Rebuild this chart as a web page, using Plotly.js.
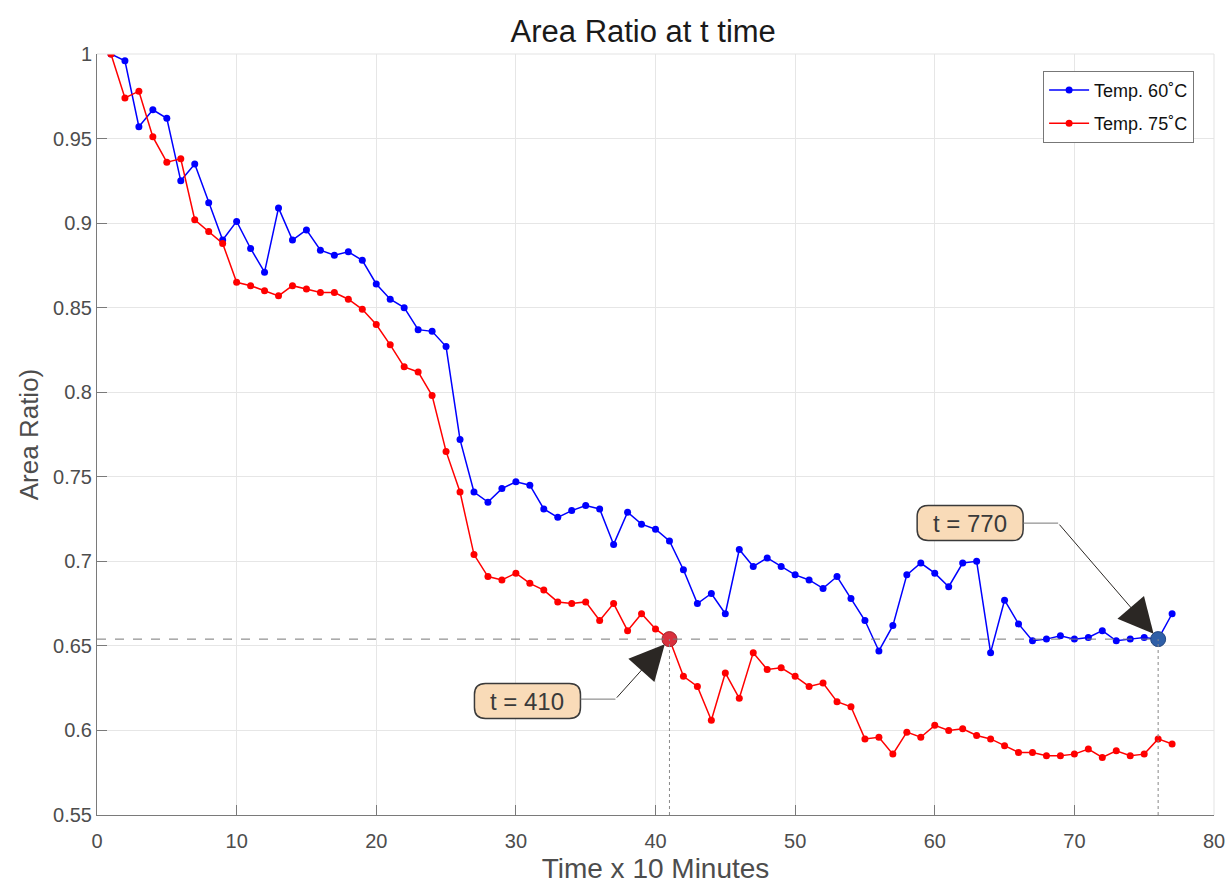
<!DOCTYPE html>
<html>
<head>
<meta charset="utf-8">
<script src="https://cdn.plot.ly/plotly-3.0.1.min.js"></script>
<style>html,body{margin:0;padding:0;background:#fff;}#chart{width:1228px;height:884px;}</style>
</head>
<body>
<div id="chart"></div>
<script>
// Time index (x 10 minutes)
const timeSteps = Array.from({length: 77}, (_, i) => i + 1);

// Area ratio at 60 °C
const temp60 = [
  1.000, 0.996, 0.957, 0.967, 0.962, 0.925, 0.935, 0.912, 0.890, 0.901,
  0.885, 0.871, 0.909, 0.890, 0.896, 0.884, 0.881, 0.883, 0.878, 0.864,
  0.855, 0.850, 0.837, 0.836, 0.827, 0.772, 0.741, 0.735, 0.743, 0.747,
  0.745, 0.731, 0.726, 0.730, 0.733, 0.731, 0.710, 0.729, 0.722, 0.719,
  0.712, 0.695, 0.675, 0.681, 0.669, 0.707, 0.697, 0.702, 0.697, 0.692,
  0.689, 0.684, 0.691, 0.678, 0.665, 0.647, 0.662, 0.692, 0.699, 0.693,
  0.685, 0.699, 0.700, 0.646, 0.677, 0.663, 0.653, 0.654, 0.656, 0.654,
  0.655, 0.659, 0.653, 0.654, 0.655, 0.654, 0.669
];

// Area ratio at 75 °C
const temp75 = [
  1.000, 0.974, 0.978, 0.951, 0.936, 0.938, 0.902, 0.895, 0.888, 0.865,
  0.863, 0.860, 0.857, 0.863, 0.861, 0.859, 0.859, 0.855, 0.849, 0.840,
  0.828, 0.815, 0.812, 0.798, 0.765, 0.741, 0.704, 0.691, 0.689, 0.693,
  0.687, 0.683, 0.676, 0.675, 0.676, 0.665, 0.675, 0.659, 0.669, 0.660,
  0.654, 0.632, 0.626, 0.606, 0.634, 0.619, 0.646, 0.636, 0.637, 0.632,
  0.626, 0.628, 0.617, 0.614, 0.595, 0.596, 0.586, 0.599, 0.596, 0.603,
  0.600, 0.601, 0.597, 0.595, 0.591, 0.587, 0.587, 0.585, 0.585, 0.586,
  0.589, 0.584, 0.588, 0.585, 0.586, 0.595, 0.592
];

// Highlighted times (index in timeSteps) and labels
const mark75Time = 41;
const mark60Time = 76;
const markLabels = ['t = 410', 't = 770'];

const xTickVals = [0, 10, 20, 30, 40, 50, 60, 70, 80];
const yTickVals = [0.55, 0.6, 0.65, 0.7, 0.75, 0.8, 0.85, 0.9, 0.95, 1];
const yTickText = ['0.55', '0.6', '0.65', '0.7', '0.75', '0.8', '0.85', '0.9', '0.95', '1'];

const y75 = temp75[timeSteps.indexOf(mark75Time)];
const y60 = temp60[timeSteps.indexOf(mark60Time)];
const yMin = 0.55;

const FONT = 'Liberation Sans, Arial, Helvetica, sans-serif';

const traces = [
  {
    x: timeSteps, y: temp60, type: 'scatter', mode: 'lines+markers',
    name: 'Temp. 60˚C', legendgroup: 'a',
    line: {color: '#0000ff', width: 1.5},
    marker: {color: '#0000ff', size: 7, symbol: 'circle'}
  },
  {
    x: timeSteps, y: temp75, type: 'scatter', mode: 'lines+markers',
    name: 'Temp. 75˚C', legendgroup: 'b',
    line: {color: '#ff0000', width: 1.5},
    marker: {color: '#ff0000', size: 7, symbol: 'circle'}
  },
  {
    x: [mark75Time], y: [y75], type: 'scatter', mode: 'markers', showlegend: false,
    marker: {color: '#d9303d', size: 15, line: {color: '#a0262e', width: 1}}
  },
  {
    x: [mark60Time], y: [y60], type: 'scatter', mode: 'markers', showlegend: false,
    marker: {color: '#2f5fa7', size: 15, line: {color: '#23477f', width: 1}}
  }
];

// rounded rectangle path in pixel offsets (y up), centred at (cx, cy)
function roundRect(cx, cy, w, h, r) {
  const L = cx - w / 2, R = cx + w / 2, B = cy - h / 2, T = cy + h / 2;
  return `M ${L + r},${B} L ${R - r},${B} Q ${R},${B} ${R},${B + r} L ${R},${T - r} Q ${R},${T} ${R - r},${T} ` +
         `L ${L + r},${T} Q ${L},${T} ${L},${T - r} L ${L},${B + r} Q ${L},${B} ${L + r},${B} Z`;
}

// callout geometry in pixels relative to highlighted point (y up)
const callouts = [
  {x: mark75Time, y: y75, label: markLabels[0], boxDx: -142, boxDy: -62, bendDx: -54, bendDy: -60},
  {x: mark60Time, y: y60, label: markLabels[1], boxDx: -188, boxDy: 116, bendDx: -100, bendDy: 116}
];
const boxW = 106, boxH = 35;

const shapes = [
  // top and right frame lines
  {type: 'line', xref: 'paper', yref: 'paper', x0: 0, x1: 1, y0: 1, y1: 1, line: {color: '#e3e3e3', width: 1}},
  {type: 'line', xref: 'paper', yref: 'paper', x0: 1, x1: 1, y0: 0, y1: 1, line: {color: '#e3e3e3', width: 1}},
  // guide lines
  {type: 'line', xref: 'x', yref: 'y', x0: 0, x1: mark60Time, y0: y60, y1: y60, line: {color: '#777', width: 1, dash: 'dash'}},
  {type: 'line', xref: 'x', yref: 'y', x0: mark75Time, x1: mark75Time, y0: yMin, y1: y75, line: {color: '#888', width: 1, dash: 'dot'}},
  {type: 'line', xref: 'x', yref: 'y', x0: mark60Time, x1: mark60Time, y0: yMin, y1: y60, line: {color: '#888', width: 1, dash: 'dot'}}
];
const annotations = [];

callouts.forEach(c => {
  shapes.push({
    type: 'path', xref: 'x', yref: 'y', xsizemode: 'pixel', ysizemode: 'pixel',
    xanchor: c.x, yanchor: c.y,
    path: roundRect(c.boxDx, c.boxDy, boxW, boxH, 11),
    fillcolor: '#f9dbb8', line: {color: '#3a3a3a', width: 1.5}, layer: 'above'
  });
  shapes.push({
    type: 'line', xref: 'x', yref: 'y', xsizemode: 'pixel', ysizemode: 'pixel',
    xanchor: c.x, yanchor: c.y,
    x0: c.boxDx + boxW / 2, x1: c.bendDx, y0: c.bendDy, y1: c.bendDy,
    line: {color: '#777', width: 1}, layer: 'above'
  });
  annotations.push({
    x: c.x, y: c.y, xref: 'x', yref: 'y', text: '', showarrow: true,
    axref: 'pixel', ayref: 'pixel', ax: c.bendDx, ay: -c.bendDy,
    arrowhead: 2, arrowsize: 7, arrowwidth: 1, arrowcolor: '#2b2724', standoff: 7
  });
  annotations.push({
    x: c.x, y: c.y, xref: 'x', yref: 'y', text: c.label, showarrow: false,
    xshift: c.boxDx, yshift: c.boxDy,
    font: {family: FONT, size: 24, color: '#3a3a3a'}
  });
});

const layout = {
  width: 1228, height: 884,
  paper_bgcolor: '#ffffff', plot_bgcolor: '#ffffff',
  margin: {l: 97, r: 14, t: 54, b: 69},
  font: {family: FONT, color: '#4d4d4d'},
  title: {
    text: 'Area Ratio at t time', xref: 'paper', x: 0.489, xanchor: 'center',
    yref: 'container', y: 0.965, yanchor: 'middle',
    font: {family: FONT, size: 31, color: '#1a1a1a'}
  },
  xaxis: {
    range: [0, 80], tickvals: xTickVals, ticktext: xTickVals.map(String),
    showgrid: true, gridcolor: '#e6e6e6', gridwidth: 1, zeroline: false,
    showline: true, linecolor: '#7a7a7a', linewidth: 1,
    ticks: 'inside', ticklen: 10, tickcolor: '#7a7a7a', ticklabelstandoff: 8,
    tickfont: {family: FONT, size: 20, color: '#4d4d4d'},
    title: {text: 'Time x 10 Minutes', font: {family: FONT, size: 28, color: '#4d4d4d'}, standoff: 8}
  },
  yaxis: {
    range: [yMin, 1], tickvals: yTickVals, ticktext: yTickText,
    showgrid: true, gridcolor: '#e6e6e6', gridwidth: 1, zeroline: false,
    showline: true, linecolor: '#7a7a7a', linewidth: 1,
    ticks: 'inside', ticklen: 10, tickcolor: '#7a7a7a',
    tickfont: {family: FONT, size: 20, color: '#4d4d4d'},
    title: {text: 'Area Ratio)', font: {family: FONT, size: 26, color: '#4d4d4d'}, standoff: 6}
  },
  legend: {
    x: 0.847, y: 0.978, xanchor: 'left', yanchor: 'top',
    bgcolor: '#ffffff', bordercolor: '#777', borderwidth: 1,
    font: {family: FONT, size: 18, color: '#111'},
    traceorder: 'grouped', tracegroupgap: 7, itemwidth: 40
  },
  shapes: shapes,
  annotations: annotations,
  showlegend: true
};

Plotly.newPlot('chart', traces, layout, {displayModeBar: false, staticPlot: true});
</script>
</body>
</html>
